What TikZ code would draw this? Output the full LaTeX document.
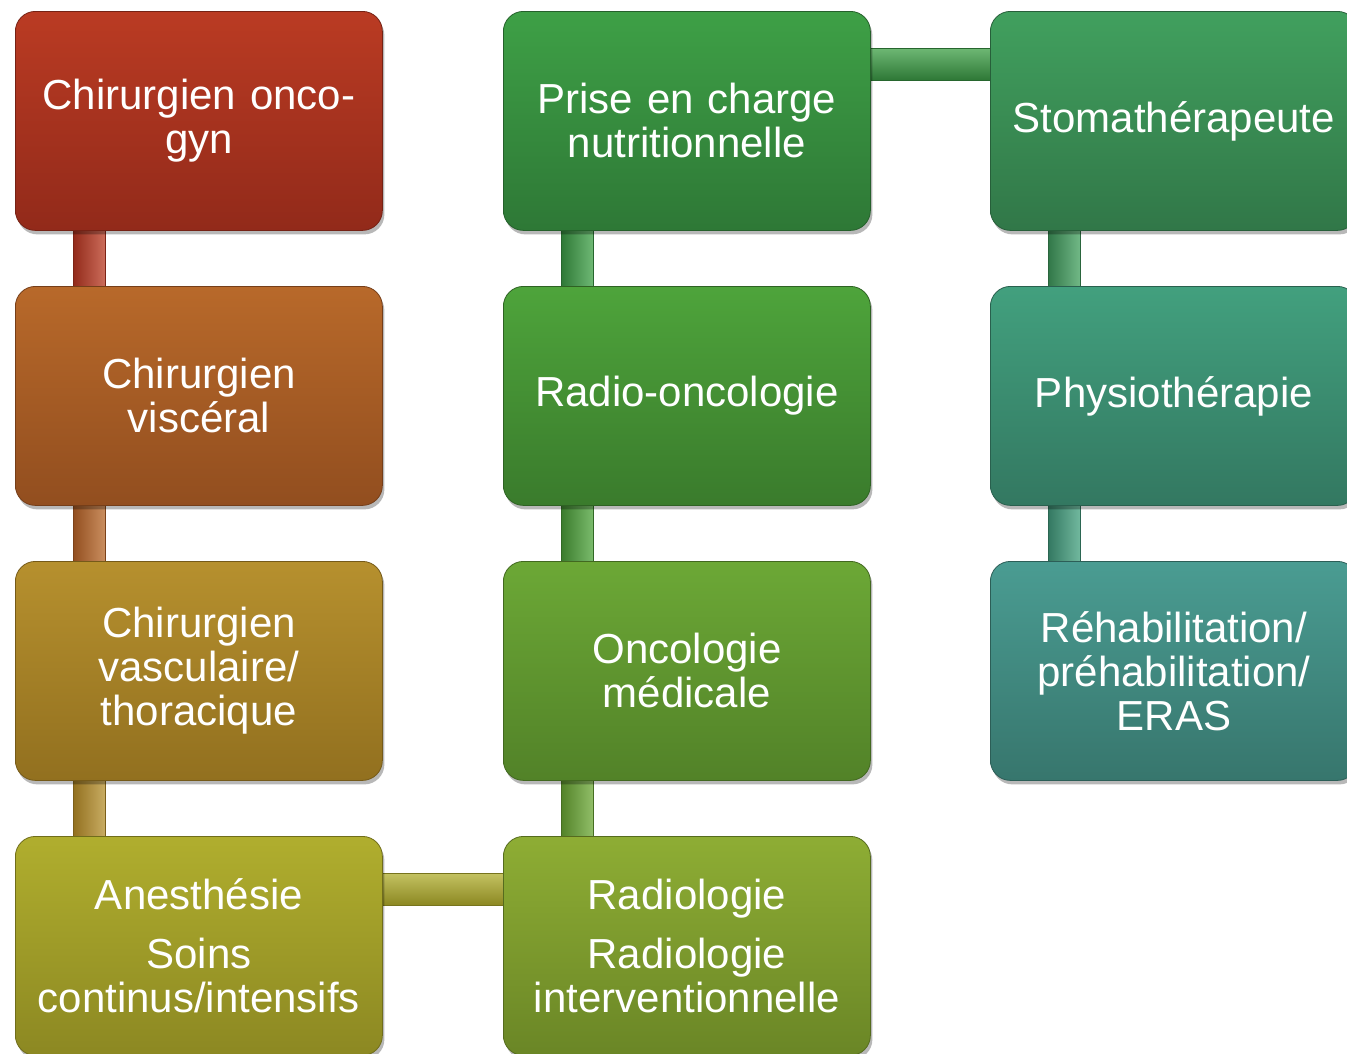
\documentclass[tikz,border=0pt]{standalone}
\usepackage{fontspec}
\setmainfont{Liberation Sans}
\usetikzlibrary{shadows,backgrounds,calc}

\definecolor{aT}{HTML}{BA3B23}\definecolor{aB}{HTML}{922A1A}
\definecolor{bT}{HTML}{B8692A}\definecolor{bB}{HTML}{924E1F}
\definecolor{cT}{HTML}{B6902E}\definecolor{cB}{HTML}{92701F}
\definecolor{dT}{HTML}{B0AE2E}\definecolor{dB}{HTML}{8C8822}
\definecolor{eT}{HTML}{3EA046}\definecolor{eB}{HTML}{2E7836}
\definecolor{fT}{HTML}{4EA43B}\definecolor{fB}{HTML}{3A7B2C}
\definecolor{gT}{HTML}{6CA836}\definecolor{gB}{HTML}{528228}
\definecolor{hT}{HTML}{8EAD34}\definecolor{hB}{HTML}{6A8626}
\definecolor{iT}{HTML}{41A05E}\definecolor{iB}{HTML}{317748}
\definecolor{jT}{HTML}{42A07E}\definecolor{jB}{HTML}{337861}
\definecolor{kT}{HTML}{4A9C92}\definecolor{kB}{HTML}{37766D}

\tikzset{
  box/.style n args={2}{rectangle, rounded corners=20pt, minimum width=367pt,
    minimum height=219pt, anchor=north west, text=white, align=center,
    text width=360pt, inner sep=0pt, font=\fontsize{42}{44}\selectfont,
    shading=axis, top color=#1, bottom color=#2, draw=#2!80!black, line width=0.8pt,
    drop shadow={shadow xshift=2pt, shadow yshift=-4pt, opacity=0.28, fill=black}},
  vbar/.style n args={2}{shading=axis, left color=#2, middle color=#1, right color=#1!75!white, draw=#2!85!black, line width=0.6pt},
  hbar/.style n args={2}{shading=axis, top color=#1!75!white, middle color=#1, bottom color=#2, draw=#2!85!black, line width=0.6pt},
}

\begin{document}
\begin{tikzpicture}[x=1pt,y=-1pt]
\clip (0,0) rectangle (1347,1053);

% column 1
\node[box={aT}{aB}] (a) at (15,11) {Chirurgien onco-\\gyn};
\node[box={bT}{bB}] (b) at (15,286) {Chirurgien\\visc\'eral};
\node[box={cT}{cB}] (c) at (15,561) {Chirurgien\\vasculaire/\\thoracique};
\node[box={dT}{dB}] (d) at (15,836) {Anesth\'esie\\[15pt]Soins\\continus/intensifs};
% column 2
\node[box={eT}{eB}] (e) at (503,11) {Prise en charge\\nutritionnelle};
\node[box={fT}{fB}] (f) at (503,286) {Radio-oncologie};
\node[box={gT}{gB}] (g) at (503,561) {Oncologie\\m\'edicale};
\node[box={hT}{hB}] (h) at (503,836) {Radiologie\\[15pt]Radiologie\\interventionnelle};
% column 3
\node[box={iT}{iB}] (i) at (990,11) {Stomath\'erapeute};
\node[box={jT}{jB}] (j) at (990,286) {Physioth\'erapie};
\node[box={kT}{kB}] (k) at (990,561) {R\'ehabilitation/\\pr\'ehabilitation/\\ERAS};

\begin{scope}[on background layer]
\fill[white] (0,0) rectangle (1347,1053);
\path[vbar={aT}{aB}] ($(a.south west)+(58,-10)$) rectangle ($(b.north west)+(90,10)$);
\path[vbar={bT}{bB}] ($(b.south west)+(58,-10)$) rectangle ($(c.north west)+(90,10)$);
\path[vbar={cT}{cB}] ($(c.south west)+(58,-10)$) rectangle ($(d.north west)+(90,10)$);
\path[hbar={dT}{dB}] ($(d.north east)+(-10,37)$) rectangle ($(h.north west)+(10,69)$);
\path[vbar={eT}{eB}] ($(e.south west)+(58,-10)$) rectangle ($(f.north west)+(90,10)$);
\path[vbar={fT}{fB}] ($(f.south west)+(58,-10)$) rectangle ($(g.north west)+(90,10)$);
\path[vbar={gT}{gB}] ($(g.south west)+(58,-10)$) rectangle ($(h.north west)+(90,10)$);
\path[hbar={eT}{eB}] ($(e.north east)+(-10,37)$) rectangle ($(i.north west)+(10,69)$);
\path[vbar={iT}{iB}] ($(i.south west)+(58,-10)$) rectangle ($(j.north west)+(90,10)$);
\path[vbar={jT}{jB}] ($(j.south west)+(58,-10)$) rectangle ($(k.north west)+(90,10)$);
\end{scope}
\end{tikzpicture}
\end{document}
